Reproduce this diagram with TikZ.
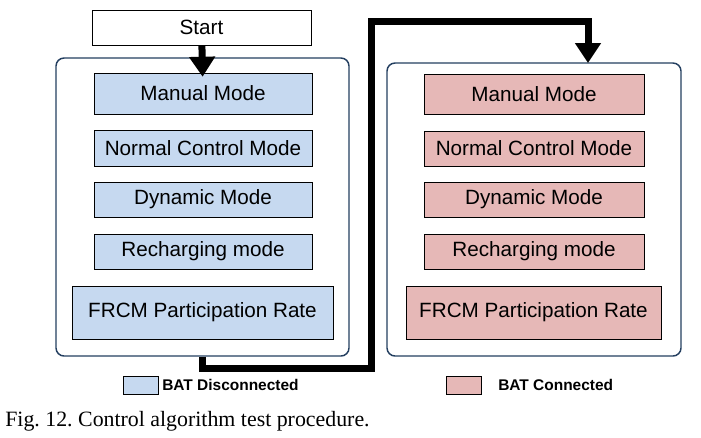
\documentclass[tikz,border=0pt]{standalone}
\usepackage{fontspec}
\setmainfont{Liberation Serif}
\setsansfont{Liberation Sans}
\usepackage{xcolor}
\usepackage{tikz}
\usetikzlibrary{arrows.meta}
\frenchspacing
\definecolor{batoff}{HTML}{C6D9F0}
\definecolor{baton}{HTML}{E6B8B7}
\definecolor{grpline}{HTML}{243F60}
\tikzset{mode/.style={draw,inner sep=0pt,font=\sffamily\fontsize{15.5}{18}\selectfont},
    offmode/.style={mode,fill=batoff},
    onmode/.style={mode,fill=baton},
    group/.style={draw=grpline,line width=1.1pt,rounded corners=6pt,minimum width=#1},
    flow/.style={line width=5.25pt,-{Triangle[width=18.75pt,length=15pt]}},
    keytext/.style={anchor=west,inner sep=0pt,font=\sffamily\bfseries\fontsize{11.6}{13}\selectfont}}

\begin{document}
\begin{tikzpicture}[x=0.75pt,y=-0.75pt]
    \useasboundingbox (0,0) rectangle (701,437);
    % containers
    \node[group=219.75pt,minimum height=223.5pt] (leftgrp) at (202.5,207) {};
    \node[group=220.5pt,minimum height=219.75pt] (rightgrp) at (534,209.5) {};
    \node[mode,minimum width=164.25pt,minimum height=26.25pt] (start) at (201.5,27.5) {Start};
    % BAT disconnected
    \node[offmode,minimum width=163.5pt,minimum height=30.75pt] (manL) at (203,93.5) {Manual Mode};
    \node[offmode,minimum width=163.5pt,minimum height=27pt] (normL) at (203,148) {Normal Control Mode};
    \node[offmode,minimum width=163.5pt,minimum height=26.25pt] (dynL) at (203,199.5) {Dynamic Mode};
    \node[offmode,minimum width=163.5pt,minimum height=26.25pt] (rechL) at (203,251.5) {Recharging mode};
    \node[offmode,minimum width=195.75pt,minimum height=39.75pt] (frcmL) at (202.5,312.5) {FRCM Participation Rate};
    % BAT connected
    \node[onmode,minimum width=165pt,minimum height=30pt] (manR) at (534,94) {Manual Mode};
    \node[onmode,minimum width=165pt,minimum height=26.25pt] (normR) at (534,148.5) {Normal Control Mode};
    \node[onmode,minimum width=165pt,minimum height=26.25pt] (dynR) at (534,199.5) {Dynamic Mode};
    \node[onmode,minimum width=165pt,minimum height=26.25pt] (rechR) at (534,251.5) {Recharging mode};
    \node[onmode,minimum width=191.25pt,minimum height=39.75pt] (frcmR) at (533.5,312.5) {FRCM Participation Rate};
    % flow
    \coordinate (bendlow) at (371,368);
    \coordinate (bendtop) at (371,21.5);
    \coordinate (entry) at (588,63);
    \draw[flow,shorten >=-3pt] (start) -- (manL);
    \draw[flow] (leftgrp.south) |- (bendlow) -- (bendtop) -| (entry);
    % legend
    \node[offmode,minimum width=26.25pt,minimum height=13.5pt] (keyoff) at (140.5,385) {};
    \node[keytext] (keyofftxt) at (162,385) {BAT Disconnected};
    \node[onmode,minimum width=26.25pt,minimum height=13.5pt] (keyon) at (463.5,385) {};
    \node[keytext] (keyontxt) at (498,385) {BAT Connected};
    \node[anchor=west,inner sep=0pt,font=\fontsize{16.4}{19}\selectfont] (caption) at (5,421) {Fig. 12. Control algorithm test procedure.};
\end{tikzpicture}
\end{document}
